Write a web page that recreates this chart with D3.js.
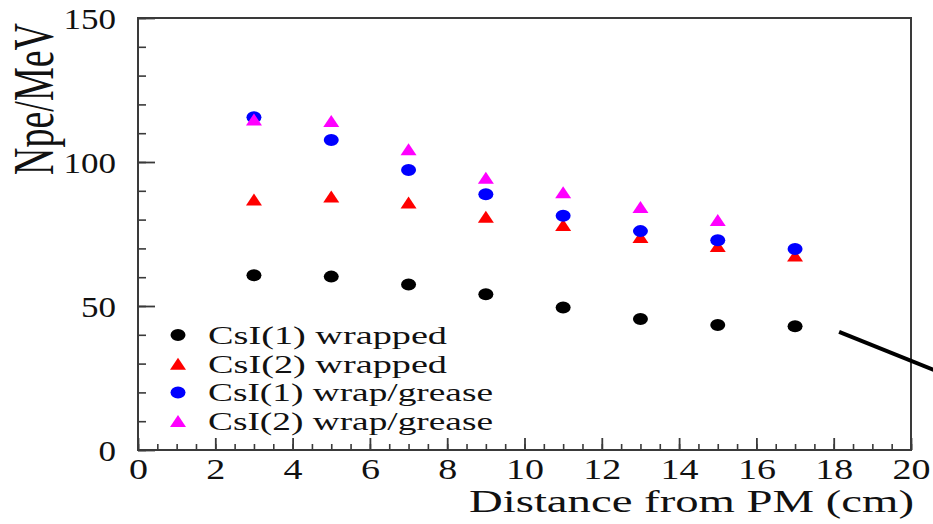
<!DOCTYPE html>
<html>
<head>
<meta charset="utf-8">
<script src="https://cdn.jsdelivr.net/npm/d3@7"></script>
<style>
  html, body { margin: 0; padding: 0; background: #fff; }
  svg text { font-family: "Liberation Serif", "Times New Roman", Times, serif; fill: #111; }
</style>
</head>
<body>
<svg id="chart" width="933" height="524"></svg>
<script>
// ---- data ----
const distance = [3, 5, 7, 9, 11, 13, 15, 17];
const csi1Wrapped = [60.7, 60.2, 57.5, 54.1, 49.5, 45.5, 43.4, 43.0];
const csi2Wrapped = [87.0, 88.0, 85.9, 81.0, 78.1, 74.0, 70.8, 67.5];
const csi1Grease  = [115.5, 107.6, 97.2, 88.8, 81.3, 76.0, 72.8, 69.8];
const csi2Grease  = [114.8, 114.2, 104.4, 94.5, 89.5, 84.4, 79.9];
const seriesNames = ["CsI(1) wrapped", "CsI(2) wrapped", "CsI(1) wrap/grease", "CsI(2) wrap/grease"];
const seriesColors = ["#000000", "#ff0000", "#0000ff", "#ff00ff"];
const seriesShapes = ["circle", "triangle", "circle", "triangle"];
const xMajorTicks = [0, 2, 4, 6, 8, 10, 12, 14, 16, 18, 20];
const yMajorTicks = [0, 50, 100, 150];
const xTitle = "Distance from PM (cm)";
const yTitle = "Npe/MeV";
// annotation line (in data units) that runs off the right edge
const pointerX = [18.14, 21.3];
const pointerY = [41.0, 24.0];

// ---- layout ----
const svg = d3.select("#chart");
const W = 933, H = 524;
const L = 138, R = 911, T = 18, B = 450;
svg.append("rect").attr("width", W).attr("height", H).attr("fill", "#fff");

const x = d3.scaleLinear().domain([0, 20]).range([L, R]);
const y = d3.scaleLinear().domain([0, 150]).range([B, T]);

const frameColor = "#3a3a3a";

// minor ticks
const xMinor = d3.range(0, 20.001, 0.5);
const yMinor = d3.range(0, 150.001, 10);
svg.append("g").attr("transform", `translate(0,${B})`)
  .call(d3.axisBottom(x).tickValues(xMinor).tickSize(-6).tickFormat(""))
  .call(g => g.select(".domain").remove())
  .call(g => g.selectAll("line").attr("stroke", frameColor).attr("stroke-width", 1.6));
svg.append("g").attr("transform", `translate(${L},0)`)
  .call(d3.axisLeft(y).tickValues(yMinor).tickSize(-8).tickFormat(""))
  .call(g => g.select(".domain").remove())
  .call(g => g.selectAll("line").attr("stroke", frameColor).attr("stroke-width", 1.6));

// major ticks + labels
svg.append("g").attr("transform", `translate(0,${B})`)
  .call(d3.axisBottom(x).tickValues(xMajorTicks).tickSize(-12).tickFormat(d3.format("d")))
  .call(g => g.select(".domain").remove())
  .call(g => g.selectAll("line").attr("stroke", frameColor).attr("stroke-width", 1.8))
  .call(g => g.selectAll("text")
      .attr("y", 29).attr("dy", null)
      .attr("font-size", 30)
      .attr("fill", "#111")
      .attr("textLength", d => 19 * String(d).length)
      .attr("lengthAdjust", "spacingAndGlyphs"));

svg.append("g").attr("transform", `translate(${L},0)`)
  .call(d3.axisLeft(y).tickValues(yMajorTicks).tickSize(-17).tickPadding(22).tickFormat(d3.format("d")))
  .call(g => g.select(".domain").remove())
  .call(g => g.selectAll("line").attr("stroke", frameColor).attr("stroke-width", 1.8))
  .call(g => g.selectAll("text")
      .attr("dy", "0.35em")
      .attr("font-size", 30)
      .attr("fill", "#111")
      .attr("textLength", d => 17.5 * String(d).length)
      .attr("lengthAdjust", "spacingAndGlyphs"));

// frame
svg.append("rect")
  .attr("x", L).attr("y", T).attr("width", R - L).attr("height", B - T)
  .attr("fill", "none").attr("stroke", frameColor).attr("stroke-width", 2);

// axis titles
svg.append("text")
  .attr("x", 914).attr("y", 512)
  .attr("text-anchor", "end")
  .attr("font-size", 31)
  .attr("textLength", 445)
  .attr("lengthAdjust", "spacingAndGlyphs")
  .text(xTitle);

svg.append("text")
  .attr("transform", `translate(53,99) rotate(-90) scale(1,1.5)`)
  .attr("text-anchor", "middle")
  .attr("font-size", 38)
  .text(yTitle);

// markers
const rx = 7.5, ry = 6;   // marker half-width / half-height
function drawMarker(g, shape, color, cx, cy) {
  if (shape === "circle") {
    g.append("ellipse").attr("cx", cx).attr("cy", cy).attr("rx", rx).attr("ry", ry).attr("fill", color);
  } else {
    const p = d3.path();
    p.moveTo(cx, cy - ry);
    p.lineTo(cx + rx + 0.5, cy + ry);
    p.lineTo(cx - rx - 0.5, cy + ry);
    p.closePath();
    g.append("path").attr("d", p.toString()).attr("fill", color);
  }
}

const allSeries = [csi1Wrapped, csi2Wrapped, csi1Grease, csi2Grease];
const pts = svg.append("g");
allSeries.forEach((vals, si) => {
  vals.forEach((v, i) => drawMarker(pts, seriesShapes[si], seriesColors[si], x(distance[i]), y(v)));
});

// legend
const legend = svg.append("g");
const legendX = 178, legendY0 = 335, legendDy = 28.7;
const legendWidths = [239, 239, 285, 285];
seriesNames.forEach((name, i) => {
  const cy = legendY0 + i * legendDy;
  drawMarker(legend, seriesShapes[i], seriesColors[i], legendX, cy);
  legend.append("text")
    .attr("x", 208).attr("y", cy + 9)
    .attr("font-size", 25.5)
    .attr("textLength", legendWidths[i])
    .attr("lengthAdjust", "spacingAndGlyphs")
    .text(name);
});

// pointer line
svg.append("line")
  .attr("x1", x(pointerX[0])).attr("y1", y(pointerY[0]))
  .attr("x2", x(pointerX[1])).attr("y2", y(pointerY[1]))
  .attr("stroke", "#000").attr("stroke-width", 4);
</script>
</body>
</html>
